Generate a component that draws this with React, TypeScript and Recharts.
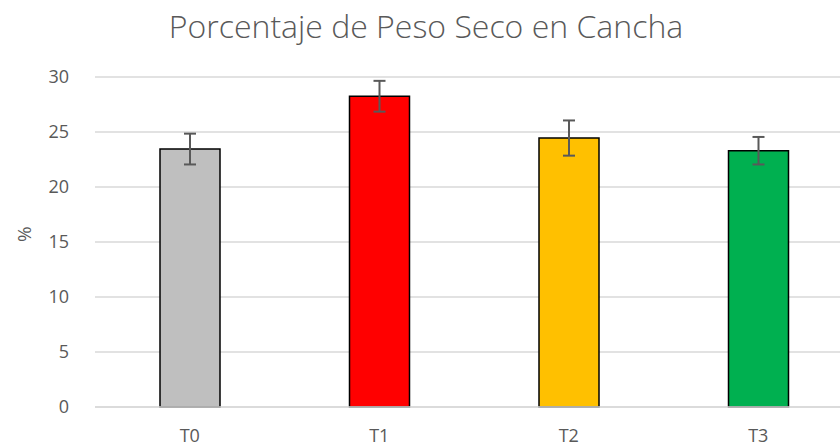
import { BarChart, Bar, XAxis, YAxis, CartesianGrid, ErrorBar, Cell, Label } from "recharts"

const categories = ["T0", "T1", "T2", "T3"]
const values = [23.45, 28.25, 24.45, 23.3]
const errors = [1.4, 1.4, 1.6, 1.25]
const colors = ["#BFBFBF", "#FF0000", "#FFC000", "#00B050"]
const yTicks = [0, 5, 10, 15, 20, 25, 30]

const data = categories.map((name, i) => ({ name, value: values[i], err: errors[i] }))

const font = "'Open Sans', 'Noto Sans', sans-serif"

export default function App() {
  return (
    <div style={{ position: "absolute", left: 0, top: 0, width: 840, height: 448, overflow: "hidden", background: "#fff" }}>
      <div
        style={{
          position: "absolute",
          left: 0,
          width: 852,
          top: 6,
          textAlign: "center",
          fontFamily: font,
          fontSize: 32,
          fontWeight: 300,
          color: "#595959",
          lineHeight: "40px",
        }}
      >
        Porcentaje de Peso Seco en Cancha
      </div>
      <BarChart
        width={860}
        height={448}
        data={data}
        margin={{ top: 77, right: 7, left: 0, bottom: 0 }}
      >
        <CartesianGrid vertical={false} stroke="#D9D9D9" strokeWidth={1.3} />
        <XAxis
          dataKey="name"
          height={41}
          axisLine={{ stroke: "#D9D9D9", strokeWidth: 1.3 }}
          tickLine={false}
          tick={{ fill: "#595959", fontSize: 18, fontFamily: font }}
          tickMargin={16}
        />
        <YAxis
          width={95}
          domain={[0, 30]}
          ticks={yTicks}
          axisLine={false}
          tickLine={false}
          tick={{ fill: "#595959", fontSize: 18, fontFamily: font }}
          tickMargin={20}
        >
          <Label value="%" angle={-90} position="insideLeft" offset={24} style={{ fill: "#595959", fontSize: 19, fontFamily: font }} />
        </YAxis>
        <Bar dataKey="value" barSize={60} stroke="#000" strokeWidth={1.5} isAnimationActive={false}>
          {data.map((d, i) => (
            <Cell key={d.name} fill={colors[i]} />
          ))}
          <ErrorBar dataKey="err" stroke="#595959" strokeWidth={2} width={6} />
        </Bar>
      </BarChart>
    </div>
  )
}
